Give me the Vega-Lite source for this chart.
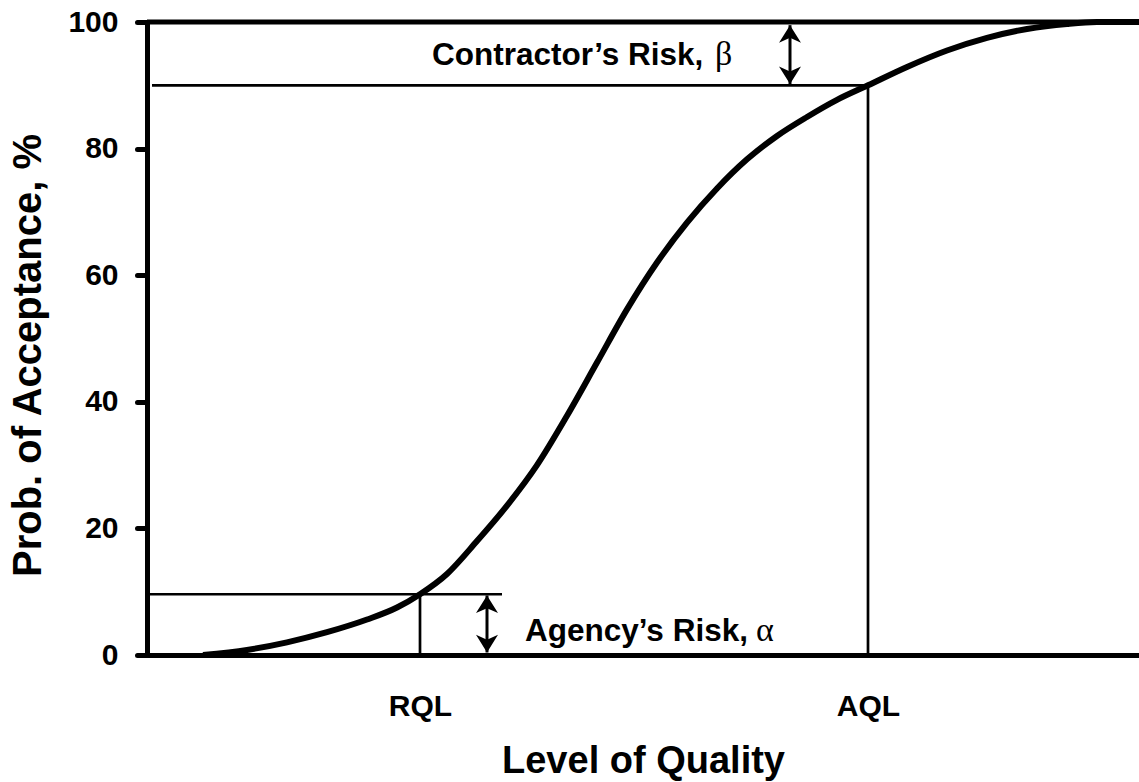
{
  "$schema": "https://vega.github.io/schema/vega-lite/v6.json",
  "width": 992,
  "height": 633,
  "autosize": {"type": "none"},
  "padding": {"left": 147, "top": 22, "right": 0, "bottom": 127},
  "background": "white",
  "config": {"view": {"stroke": null}, "font": "Liberation Sans"},
  "datasets": {
    "curve": [
      {"q": 56, "p": 0}, {"q": 100, "p": 0.8}, {"q": 140, "p": 2.0}, {"q": 180, "p": 3.6},
      {"q": 220, "p": 5.6}, {"q": 250, "p": 7.5}, {"q": 273, "p": 9.6}, {"q": 300, "p": 12.8},
      {"q": 330, "p": 18.0}, {"q": 360, "p": 23.6}, {"q": 390, "p": 30.0}, {"q": 420, "p": 37.8},
      {"q": 450, "p": 46.2}, {"q": 480, "p": 54.6}, {"q": 510, "p": 62.0}, {"q": 540, "p": 68.3},
      {"q": 570, "p": 73.7}, {"q": 600, "p": 78.3}, {"q": 630, "p": 82.0}, {"q": 660, "p": 85.0},
      {"q": 690, "p": 87.7}, {"q": 721, "p": 90.0}, {"q": 760, "p": 92.9}, {"q": 800, "p": 95.5},
      {"q": 840, "p": 97.5}, {"q": 880, "p": 98.9}, {"q": 920, "p": 99.7}, {"q": 950, "p": 100},
      {"q": 992, "p": 100}
    ],
    "border": [{"q": 0, "q2": 992, "p": 100}],
    "guides": [
      {"q": 5, "q2": 721, "p": 90, "p2": 90},
      {"q": 1, "q2": 355, "p": 9.6, "p2": 9.6},
      {"q": 273, "q2": 273, "p": 0, "p2": 9.6},
      {"q": 721, "q2": 721, "p": 0, "p2": 90}
    ],
    "arrows": [
      {"q": 643, "top": 99.5, "bottom": 90.2},
      {"q": 340, "top": 9.4, "bottom": 0.4}
    ],
    "notes": [
      {"q": 285, "p": 93.2, "label": "Contractor’s Risk,"},
      {"q": 378, "p": 2.2, "label": "Agency’s Risk,"}
    ],
    "greek": [
      {"q": 568, "p": 93.2, "label": "β"},
      {"q": 609, "p": 2.2, "label": "α"}
    ]
  },
  "layer": [
    {
      "data": {"name": "guides"},
      "mark": {"type": "rule", "color": "black", "strokeWidth": 2.7},
      "encoding": {
        "x": {"field": "q", "type": "quantitative", "scale": {"domain": [0, 992], "nice": false}},
        "x2": {"field": "q2"},
        "y": {"field": "p", "type": "quantitative", "scale": {"domain": [0, 100], "nice": false}},
        "y2": {"field": "p2"}
      }
    },
    {
      "data": {"name": "border"},
      "mark": {"type": "rule", "color": "black", "strokeWidth": 5},
      "encoding": {
        "x": {"field": "q", "type": "quantitative"},
        "x2": {"field": "q2"},
        "y": {"field": "p", "type": "quantitative"}
      }
    },
    {
      "data": {"name": "curve"},
      "mark": {"type": "line", "color": "black", "strokeWidth": 6, "interpolate": "monotone"},
      "encoding": {
        "x": {
          "field": "q", "type": "quantitative",
          "axis": {
            "values": [273, 721],
            "labelExpr": "datum.value < 500 ? 'RQL' : 'AQL'",
            "ticks": false, "tickSize": 0, "grid": false,
            "labelPadding": 60, "labelBaseline": "alphabetic",
            "labelFont": "Liberation Sans", "labelFontSize": 30, "labelFontWeight": "bold", "labelColor": "black",
            "labelFlush": false, "labelOverlap": false,
            "domainColor": "black", "domainWidth": 5,
            "title": "Level of Quality",
            "titleFont": "Liberation Sans", "titleFontSize": 38, "titleFontWeight": "bold", "titleColor": "black",
            "titleY": 117, "titleBaseline": "alphabetic"
          }
        },
        "y": {
          "field": "p", "type": "quantitative",
          "axis": {
            "values": [0, 20, 40, 60, 80, 100],
            "grid": false,
            "tickSize": 10, "tickWidth": 5, "tickColor": "black", "tickCap": "round",
            "labelPadding": 19,
            "labelFont": "Liberation Sans", "labelFontSize": 30, "labelFontWeight": "bold", "labelColor": "black",
            "labelFlush": false, "labelOverlap": false,
            "domainColor": "black", "domainWidth": 5,
            "title": "Prob. of Acceptance, %",
            "titleFont": "Liberation Sans", "titleFontSize": 40, "titleFontWeight": "bold", "titleColor": "black",
            "titleAngle": -90, "titleX": -107, "titleY": 333, "titleAlign": "center", "titleBaseline": "alphabetic"
          }
        }
      }
    },
    {
      "data": {"name": "arrows"},
      "mark": {"type": "rule", "color": "black", "strokeWidth": 3},
      "encoding": {
        "x": {"field": "q", "type": "quantitative"},
        "y": {"field": "top", "type": "quantitative"},
        "y2": {"field": "bottom"}
      }
    },
    {
      "data": {"name": "arrows"},
      "mark": {"type": "point", "filled": true, "color": "black", "opacity": 1, "size": 484, "strokeWidth": 0,
               "shape": "M0,0L1,1.6L0,1.15L-1,1.6Z"},
      "encoding": {
        "x": {"field": "q", "type": "quantitative"},
        "y": {"field": "top", "type": "quantitative"}
      }
    },
    {
      "data": {"name": "arrows"},
      "mark": {"type": "point", "filled": true, "color": "black", "opacity": 1, "size": 484, "strokeWidth": 0,
               "shape": "M0,0L1,-1.6L0,-1.15L-1,-1.6Z"},
      "encoding": {
        "x": {"field": "q", "type": "quantitative"},
        "y": {"field": "bottom", "type": "quantitative"}
      }
    },
    {
      "data": {"name": "notes"},
      "mark": {"type": "text", "align": "left", "baseline": "alphabetic", "font": "Liberation Sans",
               "fontSize": 31.5, "fontWeight": "bold", "color": "black"},
      "encoding": {
        "x": {"field": "q", "type": "quantitative"},
        "y": {"field": "p", "type": "quantitative"},
        "text": {"field": "label"}
      }
    },
    {
      "data": {"name": "greek"},
      "mark": {"type": "text", "align": "left", "baseline": "alphabetic", "font": "Liberation Serif",
               "fontSize": 34, "fontWeight": "normal", "color": "black"},
      "encoding": {
        "x": {"field": "q", "type": "quantitative"},
        "y": {"field": "p", "type": "quantitative"},
        "text": {"field": "label"}
      }
    }
  ]
}
